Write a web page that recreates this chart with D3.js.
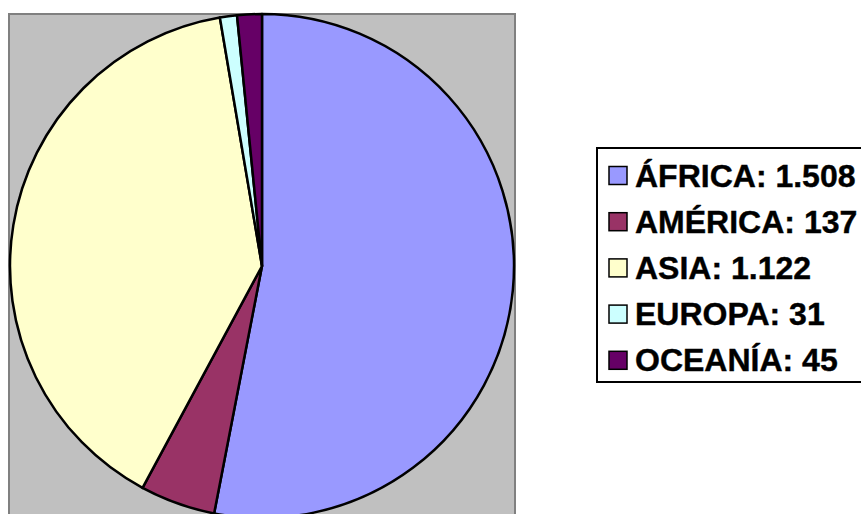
<!DOCTYPE html>
<html>
<head>
<meta charset="utf-8">
<script src="https://cdn.jsdelivr.net/npm/d3@7"></script>
<style>
  body { margin: 0; background: #fff; }
  svg { display: block; }
  .legtext { font-family: "Liberation Sans", Arial, sans-serif; font-weight: bold; font-size: 32px; fill: #000; stroke: #000; stroke-width: 0.4px; }
</style>
</head>
<body>
<div id="chart"></div>
<script>
// values
var regions = ["ÁFRICA", "AMÉRICA", "ASIA", "EUROPA", "OCEANÍA"];
var counts = [1508, 137, 1122, 31, 45];
var countLabels = ["1.508", "137", "1.122", "31", "45"];
var sliceColors = ["#9999FF", "#993366", "#FFFFCC", "#CCFFFF", "#660066"];

var width = 861, height = 514;

var svg = d3.select("#chart").append("svg")
    .attr("width", width)
    .attr("height", height);

// plot area (gray box, runs off the bottom)
svg.append("rect")
    .attr("x", 9).attr("y", 14)
    .attr("width", 506).attr("height", 520)
    .attr("fill", "#C0C0C0")
    .attr("stroke", "#808080")
    .attr("stroke-width", 2);

var cx = 262, cy = 266, radius = 252;

var data = regions.map(function(r, i){
    return {region: r, value: counts[i], label: countLabels[i], color: sliceColors[i]};
});

var pie = d3.pie()
    .sort(null)
    .value(function(d){ return d.value; });

var arc = d3.arc().innerRadius(0).outerRadius(radius);

var g = svg.append("g").attr("transform", "translate(" + cx + "," + cy + ")");

g.selectAll("path")
    .data(pie(data))
    .enter()
    .append("path")
    .attr("d", arc)
    .attr("fill", function(d){ return d.data.color; })
    .attr("stroke", "#000")
    .attr("stroke-width", 2.5)
    .attr("stroke-linejoin", "round");

// legend
var legX = 597, legY = 148, rowH = 46.2;

svg.append("rect")
    .attr("x", legX).attr("y", legY)
    .attr("width", 270).attr("height", 234)
    .attr("fill", "#fff")
    .attr("stroke", "#000")
    .attr("stroke-width", 2);

var rows = svg.append("g").selectAll("g")
    .data(data)
    .enter()
    .append("g")
    .attr("transform", function(d, i){
        return "translate(" + (legX + 12) + "," + (legY + 38.5 + i * rowH) + ")";
    });

rows.append("rect")
    .attr("x", 0).attr("y", -20)
    .attr("width", 18).attr("height", 18)
    .attr("fill", function(d){ return d.color; })
    .attr("stroke", "#000")
    .attr("stroke-width", 1.5);

rows.append("text")
    .attr("class", "legtext")
    .attr("x", 26)
    .attr("y", 0)
    .text(function(d){ return d.region + ": " + d.label; });
</script>
</body>
</html>
